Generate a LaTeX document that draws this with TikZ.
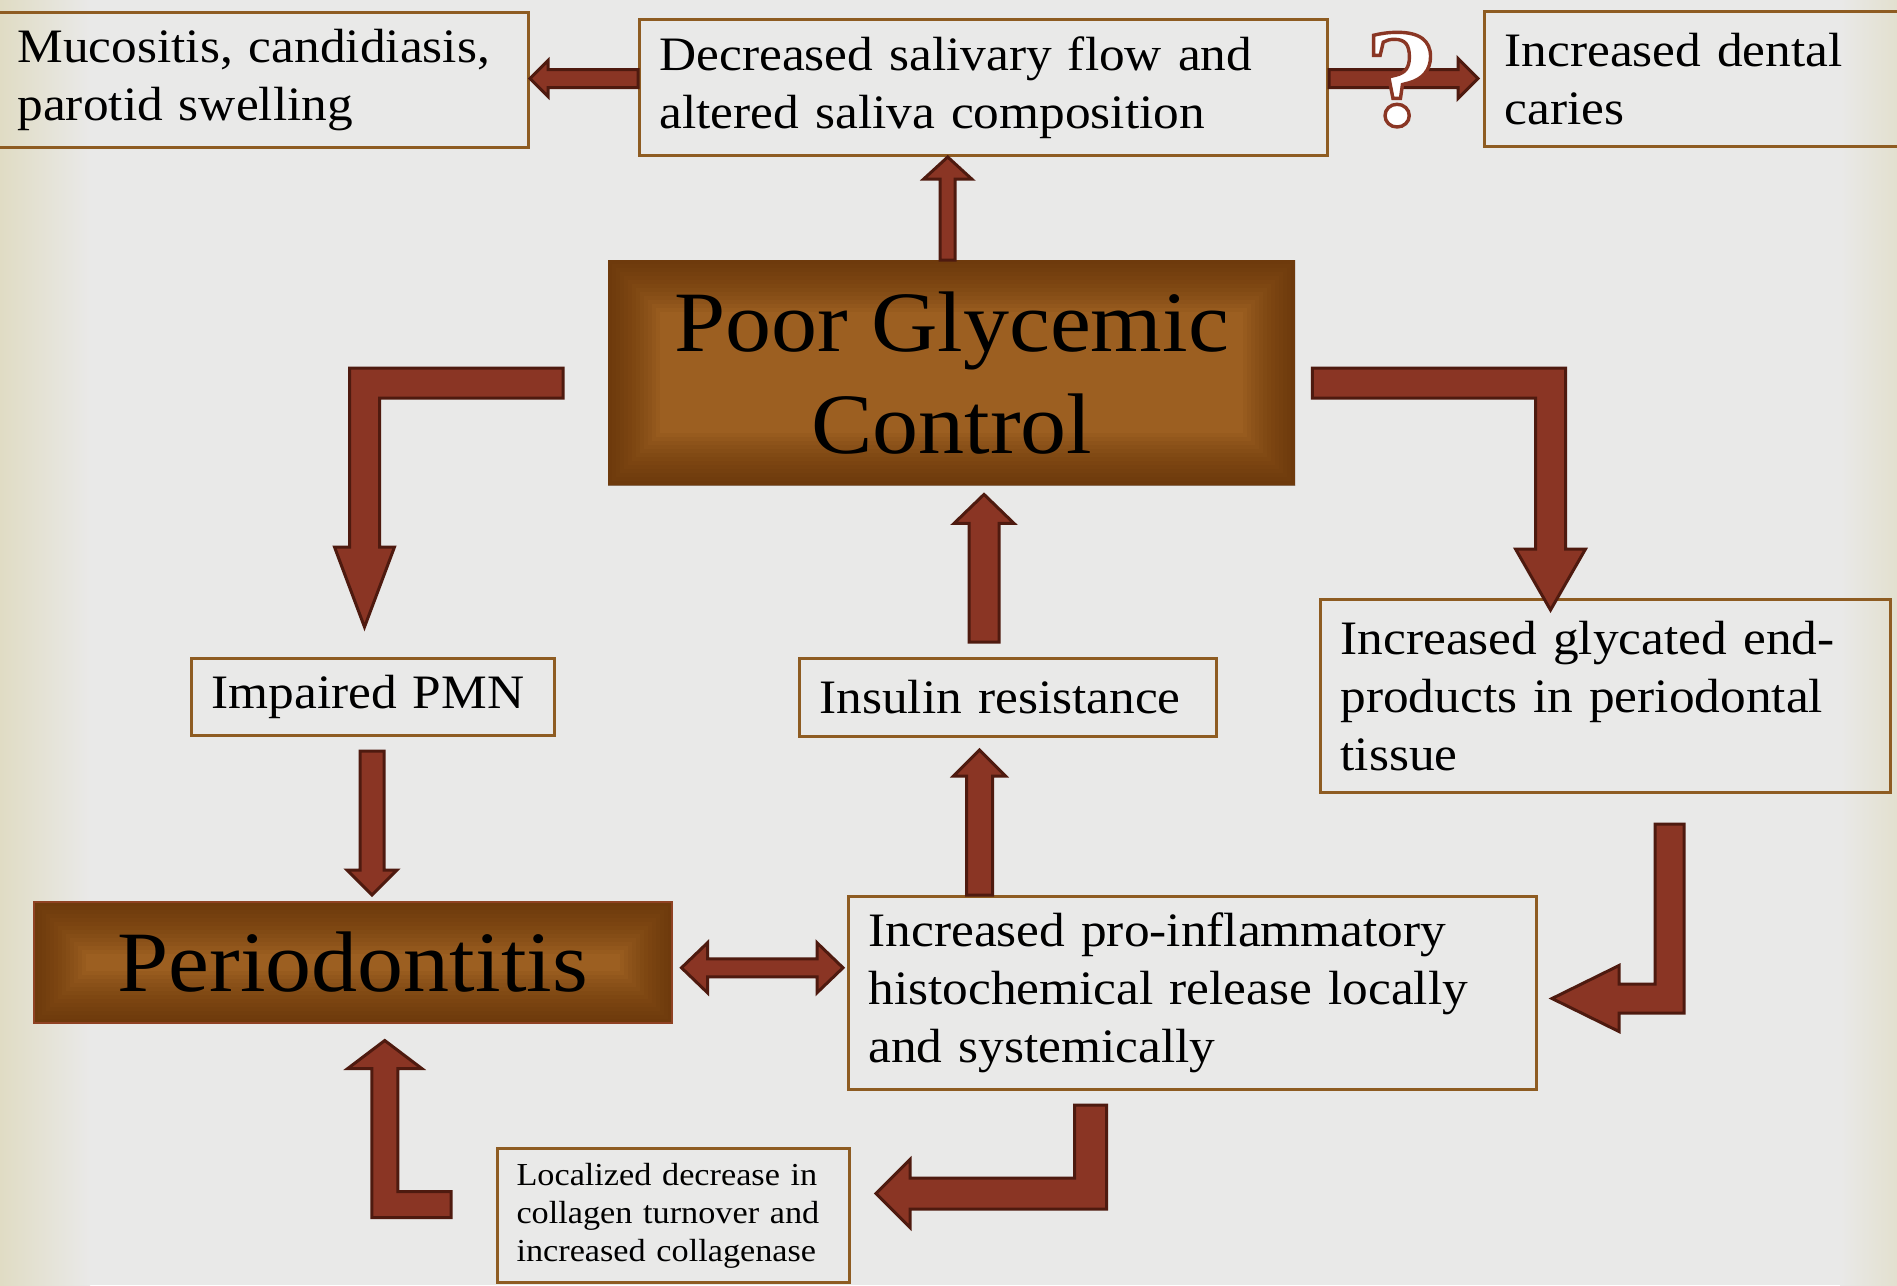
\documentclass[tikz,border=0pt]{standalone}
\usepackage{fontspec}
\setmainfont{Liberation Serif}[FakeStretch=1.07]
\usetikzlibrary{calc}
\definecolor{bg}{HTML}{E9E9E8}
\definecolor{beige}{HTML}{E0DCC4}
\definecolor{boxline}{HTML}{8E5C22}
\definecolor{arrfill}{HTML}{8A3524}
\definecolor{arrline}{HTML}{4E1A0F}
\definecolor{brownmid}{HTML}{9C5F21}
\definecolor{browndark}{HTML}{5A2C06}
\tikzset{
  txtbox/.style={draw=boxline, line width=3pt, anchor=north west, align=left,
    inner xsep=20pt, inner ysep=0pt, font=\fontsize{48}{58}\selectfont},
  smallbox/.style={txtbox, font=\fontsize{32}{38}\selectfont, inner xsep=19pt},
  brownbox/.style={fill=brownmid, anchor=north west, align=center, inner sep=0pt,
    font=\fontsize{86}{102}\selectfont,
    path picture={
      \foreach \w in {104,96,...,8}
        \draw[browndark, line width=\w pt, opacity=0.075]
          (path picture bounding box.south west) rectangle (path picture bounding box.north east);
    }},
  blockarr/.style={fill=arrfill, draw=arrline, line width=3pt, line join=miter},
}
% straight block arrows: start, tip, shaft half, head half, head length
\newcommand\arrL[5]{\draw[blockarr] ($(#1)+(0,-#3)$) -- ($(#2)+(#5,-#3)$) -- ($(#2)+(#5,-#4)$) -- (#2) -- ($(#2)+(#5,#4)$) -- ($(#2)+(#5,#3)$) -- ($(#1)+(0,#3)$) -- cycle;}
\newcommand\arrR[5]{\draw[blockarr] ($(#1)+(0,-#3)$) -- ($(#2)+(-#5,-#3)$) -- ($(#2)+(-#5,-#4)$) -- (#2) -- ($(#2)+(-#5,#4)$) -- ($(#2)+(-#5,#3)$) -- ($(#1)+(0,#3)$) -- cycle;}
\newcommand\arrU[5]{\draw[blockarr] ($(#1)+(-#3,0)$) -- ($(#2)+(-#3,#5)$) -- ($(#2)+(-#4,#5)$) -- (#2) -- ($(#2)+(#4,#5)$) -- ($(#2)+(#3,#5)$) -- ($(#1)+(#3,0)$) -- cycle;}
\newcommand\arrD[5]{\draw[blockarr] ($(#1)+(-#3,0)$) -- ($(#2)+(-#3,-#5)$) -- ($(#2)+(-#4,-#5)$) -- (#2) -- ($(#2)+(#4,-#5)$) -- ($(#2)+(#3,-#5)$) -- ($(#1)+(#3,0)$) -- cycle;}
% outlined text: white fill, brown stroke
\newcommand\outlined[1]{\special{pdf:literal direct 2 Tr 3.4 w 0.54 0.21 0.14 RG}#1\special{pdf:literal direct 0 Tr}}
\begin{document}
\begin{tikzpicture}[x=1pt,y=-1pt]
\useasboundingbox (0,0) rectangle (1897,1285);
% background
\fill[bg] (0,0) rectangle (1897,1285);
\shade[left color=beige, right color=bg] (0,0) rectangle (90,1285);
\shade[left color=bg, right color=beige!70!bg] (1840,0) rectangle (1897,1285);

% boxes
\node[txtbox, text width=491pt, minimum height=135pt] (muc) at (-4,11)
  {Mucositis, candidiasis,\\parotid swelling};
\node[txtbox, text width=648pt, minimum height=136pt] (dec) at (638,18)
  {Decreased salivary flow and\\altered saliva composition};
\node[txtbox, text width=382pt, minimum height=135pt] (car) at (1483,10)
  {Increased dental\\caries};
\node[brownbox, minimum width=687pt, minimum height=225pt] (pgc) at (608,260)
  {Poor Glycemic\\Control};
\node[txtbox, text width=323pt, minimum height=77pt] (pmn) at (190,657)
  {Impaired PMN};
\node[txtbox, text width=377pt, minimum height=78pt] (ins) at (798,657)
  {Insulin resistance};
\node[txtbox, text width=530pt, minimum height=193pt] (gly) at (1319,598)
  {Increased glycated end-\\products in periodontal\\tissue};
\node[brownbox, draw=arrfill!70!brownmid, line width=1.5pt, minimum width=638pt, minimum height=121pt] (per) at (33,901)
  {Periodontitis};
\node[txtbox, text width=648pt, minimum height=193pt] (pro) at (847,895)
  {Increased pro-inflammatory\\histochemical release locally\\and systemically};
\node[smallbox, text width=314pt, minimum height=134pt] (loc) at (496,1147)
  {Localized decrease in\\collagen turnover and\\increased collagenase};

% straight arrows
\coordinate (a1s) at ($(dec.west)+(0,-9)$);
\coordinate (a1t) at (a1s -| muc.east);
\arrL{a1s}{a1t}{9}{18}{18}

\coordinate (a2s) at ($(dec.east)+(0,-9)$);
\coordinate (a2t) at ($(a2s -| car.west)+(-5,0)$);
\arrR{a2s}{a2t}{9}{20}{20}

\coordinate (a3s) at ($(pgc.north)+(-4,0)$);
\coordinate (a3t) at (a3s |- dec.south);
\arrU{a3s}{a3t}{7.5}{24}{22}

\coordinate (a6s) at ($(ins.north)+(-24,-15)$);
\coordinate (a6t) at ($(a6s |- pgc.south)+(0,9)$);
\arrU{a6s}{a6t}{15}{30}{29}

\coordinate (a7s) at ($(pro.north)+(-213,0)$);
\coordinate (a7t) at ($(a7s |- ins.south)+(0,12)$);
\arrU{a7s}{a7t}{13}{26}{26}

\coordinate (a8s) at ($(pmn.south)+(-1,14)$);
\coordinate (a8t) at ($(a8s |- per.north)+(0,-6)$);
\arrD{a8s}{a8t}{12}{25}{25}

% double arrow
\coordinate (dl) at ($(per.east)+(9,5.5)$);
\coordinate (dr) at ($(dl -| pro.west)+(-4,0)$);
\draw[blockarr] (dl) -- ($(dl)+(26,-25)$) -- ($(dl)+(26,-9)$) -- ($(dr)+(-26,-9)$)
  -- ($(dr)+(-26,-25)$) -- (dr) -- ($(dr)+(-26,25)$) -- ($(dr)+(-26,9)$)
  -- ($(dl)+(26,9)$) -- ($(dl)+(26,25)$) -- cycle;

% L arrow: pgc -> pmn
\coordinate (b1s) at ($(pgc.west)+(-45,10.5)$);
\coordinate (b1t) at ($(pmn.north)+(-8.5,-30)$);
\draw[blockarr] ($(b1s)+(0,-15)$) -- ($(b1t|-b1s)+(-15,-15)$) -- ($(b1t)+(-15,-80)$)
  -- ($(b1t)+(-30,-80)$) -- (b1t) -- ($(b1t)+(30,-80)$) -- ($(b1t)+(15,-80)$)
  -- ($(b1t|-b1s)+(15,15)$) -- ($(b1s)+(0,15)$) -- cycle;

% L arrow: pgc -> gly
\coordinate (b2s) at ($(pgc.east)+(17,10.5)$);
\coordinate (b2t) at ($(gly.north)+(-55,12)$);
\draw[blockarr] ($(b2s)+(0,-15)$) -- ($(b2t|-b2s)+(15,-15)$) -- ($(b2t)+(15,-61)$)
  -- ($(b2t)+(35,-61)$) -- (b2t) -- ($(b2t)+(-35,-61)$) -- ($(b2t)+(-15,-61)$)
  -- ($(b2t|-b2s)+(-15,15)$) -- ($(b2s)+(0,15)$) -- cycle;

% L arrow: gly -> pro
\coordinate (b3s) at ($(gly.south)+(64,30)$);
\coordinate (b3t) at ($(pro.east)+(14,5.5)$);
\draw[blockarr] ($(b3s)+(-14.5,0)$) -- ($(b3s|-b3t)+(-14.5,-14.5)$) -- ($(b3t)+(67,-14.5)$)
  -- ($(b3t)+(67,-33)$) -- (b3t) -- ($(b3t)+(67,33)$) -- ($(b3t)+(67,14.5)$)
  -- ($(b3s|-b3t)+(14.5,14.5)$) -- ($(b3s)+(14.5,0)$) -- cycle;

% L arrow: pro -> loc
\coordinate (b4s) at ($(pro.south)+(-102,14)$);
\coordinate (b4t) at ($(loc.east)+(25,-22)$);
\draw[blockarr] ($(b4s)+(-16,0)$) -- ($(b4s|-b4t)+(-16,-15.5)$) -- ($(b4t)+(34,-15.5)$)
  -- ($(b4t)+(34,-34)$) -- (b4t) -- ($(b4t)+(34,34)$) -- ($(b4t)+(34,15.5)$)
  -- ($(b4s|-b4t)+(16,15.5)$) -- ($(b4s)+(16,0)$) -- cycle;

% L arrow: loc -> per
\coordinate (b5s) at ($(loc.west)+(-45,-11)$);
\coordinate (b5t) at ($(per.south)+(32,17)$);
\draw[blockarr] ($(b5s)+(0,-13)$) -- ($(b5t|-b5s)+(13,-13)$) -- ($(b5t)+(13,28)$)
  -- ($(b5t)+(37,28)$) -- (b5t) -- ($(b5t)+(-37,28)$) -- ($(b5t)+(-13,28)$)
  -- ($(b5t|-b5s)+(-13,13)$) -- ($(b5s)+(0,13)$) -- cycle;

% question mark
\node[anchor=base, text=white, font=\fontsize{140}{140}\selectfont\bfseries] (q) at (1402,125)
  {\outlined{?}};
\end{tikzpicture}
\end{document}
